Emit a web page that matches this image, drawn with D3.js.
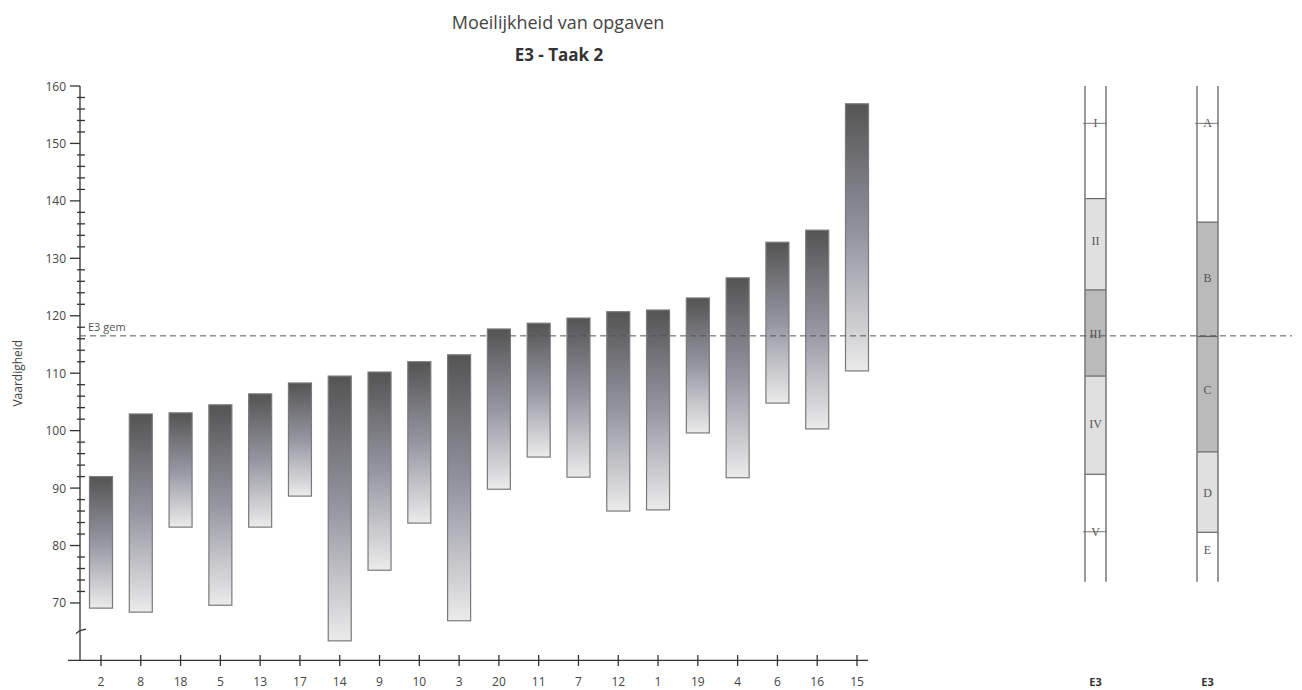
<!DOCTYPE html>
<html><head><meta charset="utf-8">
<script src="https://cdn.jsdelivr.net/npm/d3@7"></script>
<style>body{margin:0;background:#fff;} svg{display:block;}</style>
</head><body>
<svg id="chart" width="1302" height="690"></svg>
<script>
// ---- data ----
const categories = ["2","8","18","5","13","17","14","9","10","3","20","11","7","12","1","19","4","6","16","15"];
const tops    = [92.0,102.9,103.1,104.5,106.4,108.3,109.5,110.2,112.0,113.2,117.7,118.7,119.6,120.7,121.0,123.1,126.6,132.8,134.9,156.9];
const bottoms = [69.1,68.4,83.2,69.6,83.2,88.6,63.4,75.7,83.9,66.9,89.8,95.4,91.9,86.0,86.2,99.6,91.8,104.8,100.3,110.4];
const yTicks = [70,80,90,100,110,120,130,140,150,160];
const meanValue = 116.5;
const meanLabel = "E3 gem";

// right-hand reference columns
const col1Bounds = [160,140.4,124.5,109.5,92.4,73.7];
const col1Fills  = ["white","light","dark","light","white"];
const col1Labels = ["I","II","III","IV","V"];
const col1LabelVals = [153.5,133.0,116.8,101.2,82.4];
const col1Ticks  = [true,false,false,false,true];

const col2Bounds = [160,136.3,116.4,96.3,82.3,73.7];
const col2Fills  = ["white","dark","dark","light","white"];
const col2Labels = ["A","B","C","D","E"];
const col2LabelVals = [153.5,126.6,107.0,89.2,79.3];
const col2Ticks  = [true,false,false,false,false];
const columnNames = ["E3","E3"];

// ---- drawing ----
const svg = d3.select("#chart");
const y = d3.scaleLinear().domain([60,160]).range([660.4,86]);
const x = d3.scalePoint().domain(categories).range([101,857]);
const barW = 23;
const sans = "'Open Sans', 'Noto Sans', sans-serif";

// gradient
const defs = svg.append("defs");
const g = defs.append("linearGradient").attr("id","barGrad").attr("x1",0).attr("y1",0).attr("x2",0).attr("y2",1);
g.append("stop").attr("offset","0%").attr("stop-color","#545454");
g.append("stop").attr("offset","50%").attr("stop-color","#9696a2");
g.append("stop").attr("offset","100%").attr("stop-color","#ebebeb");

// title
svg.append("text").attr("x",558).attr("y",29).attr("text-anchor","middle")
  .attr("font-family",sans).attr("font-size",18).attr("fill","#444").text("Moeilijkheid van opgaven");
svg.append("text").attr("x",559).attr("y",61).attr("text-anchor","middle")
  .attr("font-family",sans).attr("font-size",17).attr("font-weight","bold").attr("fill","#333").text("E3 - Taak 2");

// y axis
const ax = svg.append("g").attr("stroke","#333").attr("stroke-width",1.3);
ax.append("line").attr("x1",80).attr("x2",80).attr("y1",y(160)).attr("y2",y(60));
const minor = d3.range(70,160,2).filter(v => v % 10 !== 0);
ax.selectAll("line.minor").data(minor).join("line").attr("class","minor")
  .attr("x1",77).attr("x2",85).attr("y1",d=>y(d)).attr("y2",d=>y(d));
ax.selectAll("line.major").data(yTicks).join("line").attr("class","major")
  .attr("x1",70).attr("x2",80).attr("y1",d=>y(d)).attr("y2",d=>y(d));
// axis break mark
ax.append("path").attr("fill","none")
  .attr("d",`M76,${y(65.2)+3} L80,${y(65.2)} M80,${y(65.2)} L86,${y(65.2)-1.5}`);
svg.selectAll("text.ytl").data(yTicks).join("text").attr("class","ytl")
  .attr("x",66).attr("y",d=>y(d)+4.5).attr("text-anchor","end")
  .attr("font-family",sans).attr("font-size",12).attr("fill","#444").text(d=>d);
svg.append("text").attr("transform",`translate(22,${y(110)}) rotate(-90)`)
  .attr("text-anchor","middle").attr("font-family",sans).attr("font-size",12).attr("fill","#444").text("Vaardigheid");

// x axis
const xa = svg.append("g").attr("stroke","#333").attr("stroke-width",1.3);
xa.append("line").attr("x1",68).attr("x2",868).attr("y1",660.4).attr("y2",660.4);
xa.selectAll("line.xt").data(categories).join("line").attr("class","xt")
  .attr("x1",d=>x(d)).attr("x2",d=>x(d)).attr("y1",655).attr("y2",666);
svg.selectAll("text.xtl").data(categories).join("text").attr("class","xtl")
  .attr("x",d=>x(d)).attr("y",686).attr("text-anchor","middle")
  .attr("font-family",sans).attr("font-size",12).attr("fill","#444").text(d=>d);

// bars
svg.selectAll("rect.bar").data(categories).join("rect").attr("class","bar")
  .attr("x",d=>x(d)-barW/2).attr("width",barW)
  .attr("y",(d,i)=>y(tops[i])).attr("height",(d,i)=>y(bottoms[i])-y(tops[i]))
  .attr("fill","url(#barGrad)").attr("stroke","#7a7a7a").attr("stroke-width",1.2);

// reference columns
const fillMap = {white:"#ffffff", light:"#e0e0e0", dark:"#bababa"};
function drawColumn(cx, bounds, fills, labels, labelVals, ticks, name){
  const w = 21, x0 = cx - w/2, x1 = cx + w/2;
  const c = svg.append("g");
  c.selectAll("rect").data(fills).join("rect")
    .attr("x",x0).attr("width",w)
    .attr("y",(d,i)=>y(bounds[i])).attr("height",(d,i)=>y(bounds[i+1])-y(bounds[i]))
    .attr("fill",d=>fillMap[d]);
  c.selectAll("line.b").data(bounds.slice(1,-1)).join("line").attr("class","b")
    .attr("x1",x0).attr("x2",x1).attr("y1",d=>y(d)).attr("y2",d=>y(d))
    .attr("stroke","#666").attr("stroke-width",1.2);
  c.append("line").attr("x1",x0).attr("x2",x0).attr("y1",y(bounds[0])).attr("y2",y(bounds[bounds.length-1])).attr("stroke","#777").attr("stroke-width",1.5);
  c.append("line").attr("x1",x1).attr("x2",x1).attr("y1",y(bounds[0])).attr("y2",y(bounds[bounds.length-1])).attr("stroke","#777").attr("stroke-width",1.5);
  c.selectAll("line.t").data(labelVals.filter((v,i)=>ticks[i])).join("line").attr("class","t")
    .attr("x1",x0-2).attr("x2",x1+1).attr("y1",d=>y(d)).attr("y2",d=>y(d))
    .attr("stroke","#777").attr("stroke-width",1);
  c.selectAll("text.l").data(labels).join("text").attr("class","l")
    .attr("x",cx).attr("y",(d,i)=>y(labelVals[i])+4).attr("text-anchor","middle")
    .attr("font-family","'Liberation Serif','DejaVu Serif',serif").attr("font-size",12).attr("fill","#555").text(d=>d);
  svg.append("text").attr("x",cx).attr("y",686).attr("text-anchor","middle")
    .attr("font-family",sans).attr("font-size",11).attr("font-weight","bold").attr("fill","#333").text(name);
}
drawColumn(1095.5, col1Bounds, col1Fills, col1Labels, col1LabelVals, col1Ticks, columnNames[0]);
drawColumn(1207.5, col2Bounds, col2Fills, col2Labels, col2LabelVals, col2Ticks, columnNames[1]);

// mean line
svg.append("line").attr("x1",80).attr("x2",1292).attr("y1",y(meanValue)).attr("y2",y(meanValue))
  .attr("stroke","#555").attr("stroke-width",1).attr("stroke-dasharray","6,4");
svg.append("text").attr("x",88).attr("y",y(meanValue)-5).attr("font-family",sans)
  .attr("font-size",11).attr("fill","#555").text(meanLabel);
</script>
</body></html>
